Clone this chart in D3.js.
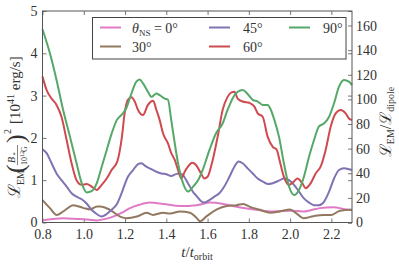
<!DOCTYPE html>
<html><head><meta charset="utf-8">
<script src="https://cdn.jsdelivr.net/npm/d3@7"></script>
<style>
body{margin:0;background:#fff;}
text{font-family:"Liberation Serif","DejaVu Serif",serif;fill:#333;}
</style></head>
<body><svg id="c" width="399" height="264"></svg>
<script>
// ---- data ----
const labels = ["θNS = 0°","30°","45°","60°","90°"];
const colors = ["#e07ac6","#937860","#8172b3","#cf4a50","#55a868"];
const xTicks = [0.8,1.0,1.2,1.4,1.6,1.8,2.0,2.2];
const yTicksLeft = [0,1,2,3,4,5];
const yTicksRight = [0,20,40,60,80,100,120,140,160];

const t0 = [0.80,0.85,0.90,0.95,0.98,1.02,1.063,1.10,1.142,1.18,1.224,1.27,1.32,1.385,1.466,1.547,1.612,1.675,1.741,1.79,1.838,1.917,2.0,2.063,2.10,2.145,2.208,2.274,2.30];
const v0 = [0.05,0.08,0.10,0.09,0.08,0.07,0.05,0.08,0.14,0.22,0.34,0.42,0.47,0.44,0.39,0.41,0.47,0.44,0.37,0.33,0.30,0.26,0.28,0.26,0.29,0.34,0.36,0.31,0.30];

const t30 = [0.80,0.836,0.869,0.90,0.95,1.0,1.03,1.065,1.08,1.127,1.176,1.208,1.257,1.305,1.336,1.385,1.418,1.466,1.515,1.545,1.564,1.596,1.645,1.693,1.741,1.773,1.806,1.854,1.903,1.951,2.0,2.032,2.064,2.113,2.161,2.20,2.242,2.29,2.30];
const v30 = [0.53,0.34,0.18,0.26,0.41,0.34,0.31,0.38,0.38,0.30,0.14,0.10,0.14,0.23,0.18,0.23,0.21,0.26,0.23,0.12,0.03,0.15,0.31,0.39,0.41,0.44,0.37,0.30,0.23,0.26,0.31,0.21,0.10,0.15,0.18,0.18,0.28,0.30,0.29];

const t45 = [0.80,0.82,0.844,0.868,0.892,0.917,0.941,0.965,0.99,1.014,1.038,1.063,1.087,1.111,1.135,1.16,1.184,1.20,1.214,1.239,1.263,1.279,1.303,1.328,1.352,1.376,1.40,1.424,1.449,1.465,1.481,1.505,1.53,1.548,1.565,1.584,1.609,1.633,1.657,1.681,1.706,1.73,1.751,1.77,1.794,1.819,1.843,1.867,1.891,1.916,1.946,1.97,1.995,2.019,2.043,2.067,2.092,2.116,2.14,2.164,2.189,2.213,2.237,2.261,2.285,2.30];
const v45 = [1.73,1.64,1.40,1.16,1.00,0.85,0.69,0.61,0.55,0.45,0.30,0.20,0.14,0.20,0.30,0.43,0.70,0.92,1.08,1.24,1.38,1.40,1.32,1.26,1.20,1.16,1.14,1.10,1.15,1.16,1.12,0.93,0.72,0.62,0.52,0.47,0.53,0.61,0.69,0.85,1.08,1.32,1.44,1.40,1.28,1.16,1.04,0.97,0.91,0.93,0.99,1.04,1.00,0.89,0.73,0.57,0.47,0.41,0.41,0.49,0.73,1.04,1.24,1.28,1.26,1.24];

const t60 = [0.80,0.82,0.844,0.868,0.892,0.917,0.941,0.965,0.99,1.014,1.038,1.063,1.087,1.111,1.135,1.163,1.185,1.198,1.214,1.231,1.247,1.263,1.287,1.311,1.336,1.352,1.368,1.384,1.408,1.424,1.441,1.457,1.473,1.489,1.505,1.525,1.544,1.568,1.584,1.60,1.625,1.649,1.673,1.697,1.714,1.73,1.746,1.77,1.802,1.827,1.843,1.867,1.891,1.916,1.935,1.95,1.97,1.995,2.019,2.035,2.059,2.075,2.10,2.124,2.148,2.172,2.197,2.221,2.245,2.269,2.285,2.30];
const v60 = [3.45,3.13,2.93,2.78,2.50,1.95,1.40,1.00,0.89,0.91,0.85,0.77,0.89,1.04,1.24,1.45,2.03,2.58,2.90,2.96,2.86,2.66,2.54,2.78,2.88,2.66,2.42,2.11,1.87,1.64,1.48,1.24,1.04,1.20,1.32,1.41,1.36,1.16,1.04,1.08,1.48,2.03,2.66,2.97,3.07,3.09,2.93,2.86,2.83,2.74,2.58,2.50,2.03,1.79,1.72,1.45,1.08,0.89,0.97,1.04,0.93,0.81,0.93,1.16,1.32,1.71,2.27,2.58,2.66,2.58,2.46,2.42];

const t90 = [0.80,0.836,0.868,0.90,0.933,0.965,0.99,1.014,1.038,1.063,1.087,1.111,1.135,1.16,1.184,1.206,1.231,1.255,1.271,1.287,1.311,1.328,1.352,1.368,1.392,1.408,1.424,1.441,1.457,1.481,1.505,1.53,1.554,1.576,1.609,1.641,1.673,1.697,1.722,1.746,1.77,1.794,1.819,1.843,1.867,1.891,1.907,1.924,1.946,1.97,1.995,2.019,2.043,2.067,2.092,2.116,2.14,2.164,2.189,2.213,2.237,2.261,2.285,2.30];
const v90 = [4.57,4.0,3.37,2.66,2.03,1.40,0.93,0.71,0.74,0.93,1.32,1.71,2.10,2.42,2.55,2.70,3.05,3.33,3.38,3.29,3.09,2.97,3.05,3.01,2.93,2.90,2.42,1.87,1.40,0.93,0.73,0.85,1.00,1.24,1.71,2.11,2.34,2.66,2.94,3.09,3.13,3.04,2.90,2.86,2.78,2.78,2.66,2.42,2.03,1.40,0.85,0.65,0.77,1.08,1.56,1.95,2.27,2.34,2.50,2.82,3.21,3.37,3.33,3.25];

const seriesT = [t0,t30,t45,t60,t90];
const seriesV = [v0,v30,v45,v60,v90];

// ---- layout ----
const L = 42.5, R = 352, T = 11, B = 222.5;
const svg = d3.select("#c");
const x = d3.scaleLinear().domain([0.8,2.3]).range([L,R]);
const y = d3.scaleLinear().domain([0,5]).range([B,T]);
const yR = d3.scaleLinear().domain([0,5*34.36]).range([B,T]);

const axCol = "#555";
const tk = 4;
const g = svg.append("g");
g.append("g").attr("transform",`translate(0,${B})`)
 .call(d3.axisBottom(x).tickValues(xTicks).tickSize(-tk).tickFormat(d3.format(".1f")).tickPadding(7))
 .call(a=>a.select(".domain").remove());
g.append("g").attr("transform",`translate(0,${T})`)
 .call(d3.axisTop(x).tickValues(xTicks).tickSize(-tk).tickFormat(""))
 .call(a=>a.select(".domain").remove());
g.append("g").attr("transform",`translate(${L},0)`)
 .call(d3.axisLeft(y).tickValues(yTicksLeft).tickSize(-tk).tickFormat(d3.format("d")).tickPadding(5))
 .call(a=>a.select(".domain").remove());
g.append("g").attr("transform",`translate(${R},0)`)
 .call(d3.axisRight(y).tickValues(yTicksLeft).tickSize(-tk).tickFormat(""))
 .call(a=>a.select(".domain").remove());
g.append("g").attr("transform",`translate(${R},0)`)
 .call(d3.axisRight(yR).tickValues(yTicksRight).tickSize(-tk).tickFormat(d3.format("d")).tickPadding(4))
 .call(a=>a.select(".domain").remove());
g.selectAll(".tick line").attr("stroke",axCol).attr("stroke-width",0.8);
g.selectAll(".tick text").attr("font-size",14).attr("font-family","Liberation Serif").attr("fill","#333");

// lines
const line = d3.line().curve(d3.curveMonotoneX);
const plot = svg.append("g");
seriesT.forEach((ts,i)=>{
  const pts = ts.map((t,j)=>[x(t), y(seriesV[i][j])]);
  plot.append("path").attr("d",line(pts)).attr("fill","none")
    .attr("stroke",colors[i]).attr("stroke-width",2).attr("stroke-linejoin","round");
});

// frame
svg.append("rect").attr("x",L).attr("y",T).attr("width",R-L).attr("height",B-T)
  .attr("fill","none").attr("stroke",axCol).attr("stroke-width",1);

// legend
const lg = svg.append("g");
lg.append("rect").attr("x",92.5).attr("y",17.5).attr("width",253.5).attr("height",41.5)
  .attr("fill","#fff").attr("stroke","#444").attr("stroke-width",1);
const legPos = [[100,27.5],[100,46.5],[209,27.5],[209,46.5],[289,27.5]];
const legTextX = [132,132,243,243,323];
labels.forEach((lab,i)=>{
  const [lx,ly] = legPos[i];
  lg.append("line").attr("x1",lx).attr("x2",lx+21).attr("y1",ly).attr("y2",ly)
    .attr("stroke",colors[i]).attr("stroke-width",2);
  const tx = lg.append("text").attr("x",legTextX[i]).attr("y",ly+5).attr("font-size",14);
  if(i===0){
    tx.append("tspan").attr("font-style","italic").text("θ");
    tx.append("tspan").attr("font-size",9).attr("dy",3).text("NS");
    tx.append("tspan").attr("dy",-3).text(" = 0°");
  } else tx.text(lab);
});

// x label
const xl = svg.append("text").attr("x",197).attr("y",257).attr("text-anchor","middle").attr("font-size",15);
xl.append("tspan").attr("font-style","italic").text("t");
xl.append("tspan").text("/");
xl.append("tspan").attr("font-style","italic").text("t");
xl.append("tspan").attr("font-size",10).attr("dy",3).text("orbit");

// right label
const rl = svg.append("text").attr("transform","translate(391,122) rotate(-90)")
  .attr("text-anchor","middle").attr("font-size",16);
rl.append("tspan").attr("font-family","DejaVu Serif").text("ℒ");
rl.append("tspan").attr("font-size",10).attr("dy",3).text("EM");
rl.append("tspan").attr("dy",-3).text("/");
rl.append("tspan").attr("font-family","DejaVu Serif").text("ℒ");
rl.append("tspan").attr("font-size",10).attr("dy",3).text("dipole");

// left label
const ll = svg.append("g").attr("transform","translate(20,118) rotate(-90)");
const T_ = (xx,yy,s,txt,it)=>ll.append("text").attr("x",xx).attr("y",yy).attr("font-size",s)
   .attr("font-style",it?"italic":"normal").text(txt);
T_(-80,0,17,"ℒ",false).attr("font-family","DejaVu Serif");
T_(-67,4,10,"EM");
T_(-55,4,26,"(");
T_(-45,-5,10,"B",true);
T_(-38,-3,7,"*",true);
ll.append("line").attr("x1",-47).attr("x2",-27).attr("y1",-2.5).attr("y2",-2.5).attr("stroke","#333").attr("stroke-width",0.6);
T_(-47,7,8,"10");
T_(-39,4,6,"12");
T_(-34,7,8,"G");
T_(-25,4,26,")");
T_(-16,-9,10,"2");
const lt = ll.append("text").attr("x",-6).attr("y",0).attr("font-size",15);
lt.append("tspan").text("[10");
lt.append("tspan").attr("font-size",10).attr("dy",-6).text("41");
lt.append("tspan").attr("dy",6).text(" erg/s]");
</script></body></html>
